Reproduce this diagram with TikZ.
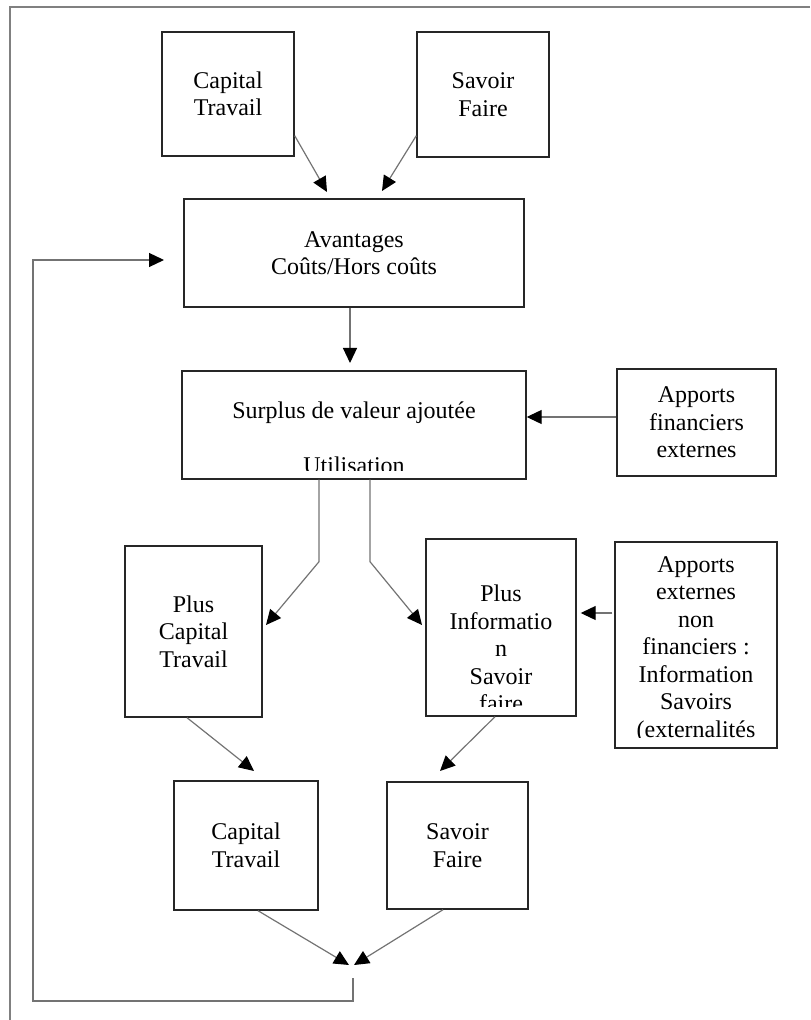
\documentclass[tikz,border=0pt]{standalone}
\usepackage{fontspec}
\setmainfont{Liberation Serif}
\usetikzlibrary{arrows.meta}
\tikzset{
  box/.style={draw=black!85,line width=0.7pt,inner sep=0pt},
  txt/.style={align=center,font=\fontsize{12}{13.75}\selectfont,inner sep=0pt},
  arr/.style={draw=black!55,line width=0.6pt,-{Triangle[length=7.5pt,width=7pt,color=black]}},
  frame/.style={draw=gray,line width=1pt}
}

\begin{document}
\begin{tikzpicture}[x=0.5pt,y=-0.5pt]
\useasboundingbox (0,0) rectangle (810,1020);
\draw[frame] (810,7) -- (10,7) -- (10,1020);
% boxes
\node[box,txt,minimum width=66pt,minimum height=62pt] (ct1) at (228,94) {Capital\\Travail};
\node[box,txt,minimum width=66pt,minimum height=62.5pt] (sf1) at (483,94.5) {Savoir\\Faire};
\node[box,txt,minimum width=170pt,minimum height=54pt] (av) at (354,253) {Avantages\\Co\^uts/Hors co\^uts};
\node[box,minimum width=172pt,minimum height=54pt] (sp) at (354,425) {};
\node[box,txt,minimum width=79.5pt,minimum height=53.5pt] (af) at (696.5,422.5) {Apports\\financiers\\externes};
\node[box,txt,minimum width=68.5pt,minimum height=85.5pt] (pc) at (193.5,631.5) {Plus\\Capital\\Travail};
\node[box,minimum width=75pt,minimum height=88.5pt] (pi) at (501,627.5) {};
\node[box,minimum width=81pt,minimum height=103pt] (ae) at (696,645) {};
\node[box,txt,minimum width=72pt,minimum height=64.5pt] (ct2) at (246,845.5) {Capital\\Travail};
\node[box,txt,minimum width=70.5pt,minimum height=63.5pt] (sf2) at (457.5,845.5) {Savoir\\Faire};
% texts cut by their box
\begin{scope}
  \clip (182,371) rectangle (526,470);
  \node[txt] (sp-t) at (354,437.5) {Surplus de valeur ajout\'ee\\[13.75pt]Utilisation};
\end{scope}
\begin{scope}
  \clip (426,539) rectangle (576,706);
  \node[txt] (pi-t) at (501,648.5) {Plus\\Informatio\\n\\Savoir\\faire};
\end{scope}
\begin{scope}
  \clip (615,542) rectangle (777,737);
  \node[txt] (ae-t) at (696,649.5) {Apports\\externes\\non\\financiers :\\Information\\Savoirs\\(externalit\'es};
\end{scope}
% arrow ends
\coordinate (t1) at (327,192);
\coordinate (t2) at (382,191);
\coordinate (t3) at (350,363);
\coordinate (t5) at (266,625);
\coordinate (t6) at (422,625);
\coordinate (t8) at (254,771);
\coordinate (t9) at (440,771);
\coordinate (t10) at (349,965);
\coordinate (t11) at (354,965);
\coordinate (fb) at (353,978);
\coordinate (lc) at (33,1001);
\coordinate (t12) at (164,260);
% connectors
\draw[arr] ([yshift=10.5pt]ct1.south east) -- (t1);
\draw[arr] ([yshift=11pt]sf1.south west) -- (t2);
\draw[arr] ([xshift=-2pt]av.south) -- (t3);
\draw[arr] ([yshift=2.75pt]af.west) -- ([yshift=4pt]sp.east);
\draw[arr] ([xshift=-17.5pt]sp.south) -- ++(0,82) -- (t5);
\draw[arr] ([xshift=8pt]sp.south) -- ++(0,82) -- (t6);
\draw[arr] ([shift={(-1pt,16pt)}]ae.west) -- ([shift={(2pt,7.25pt)}]pi.east);
\draw[arr] ([xshift=-3.25pt]pc.south) -- (t8);
\draw[arr] ([xshift=-3pt]pi.south) -- (t9);
\draw[arr] ([xshift=6pt]ct2.south) -- (t10);
\draw[arr] ([xshift=-7.25pt]sf2.south) -- (t11);
\draw[arr] (fb) |- (lc) |- (t12);
\end{tikzpicture}
\end{document}
